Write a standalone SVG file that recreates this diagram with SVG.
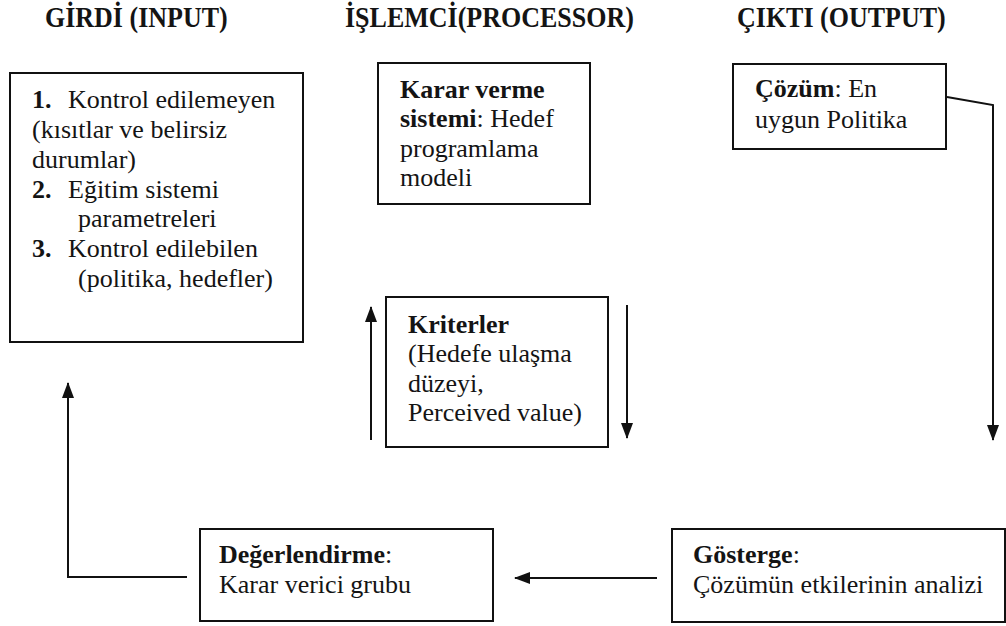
<svg xmlns="http://www.w3.org/2000/svg" width="1006" height="626" viewBox="0 0 1006 626">
<style>
text { font-family: 'Liberation Serif', 'DejaVu Serif', serif; font-size: 26px; fill: #141414; }
.title { font-weight: bold; font-size: 26px; }
.b { font-weight: bold; }
.box { fill: #ffffff; stroke: #111111; stroke-width: 2; }
.conn { fill: none; stroke: #111111; stroke-width: 2; }
</style>
<defs>
<marker id="arrow" markerWidth="16" markerHeight="12" refX="15" refY="6" orient="auto" markerUnits="userSpaceOnUse">
<path d="M0,0 L16,6 L0,12 Z" fill="#111111"/>
</marker>
</defs>
<rect width="1006" height="626" fill="#ffffff"/>

<g id="titles">
<text class="title" transform="translate(45,27) scale(1,1.12)">GİRDİ (INPUT)</text>
<text class="title" transform="translate(345,27) scale(1,1.12)">İŞLEMCİ(PROCESSOR)</text>
<text class="title" transform="translate(737,27) scale(1,1.12)">ÇIKTI (OUTPUT)</text>
</g>

<g id="input">
<rect class="box" x="10" y="73" width="293" height="269"/>
<text x="32" y="108"><tspan class="b">1.</tspan></text>
<text x="68" y="108">Kontrol edilemeyen</text>
<text x="32" y="138">(kısıtlar ve belirsiz</text>
<text x="32" y="168">durumlar)</text>
<text x="32" y="198"><tspan class="b">2.</tspan></text>
<text x="68" y="198">Eğitim sistemi</text>
<text x="78" y="227">parametreleri</text>
<text x="32" y="257"><tspan class="b">3.</tspan></text>
<text x="68" y="257">Kontrol edilebilen</text>
<text x="78" y="287">(politika, hedefler)</text>
</g>

<g id="processor">
<rect class="box" x="378" y="63" width="212" height="141"/>
<text x="400" y="98"><tspan class="b">Karar verme</tspan></text>
<text x="400" y="127"><tspan class="b">sistemi</tspan>: Hedef</text>
<text x="400" y="157">programlama</text>
<text x="400" y="186">modeli</text>
</g>

<g id="output">
<rect class="box" x="733" y="64" width="213" height="85"/>
<text x="755" y="97"><tspan class="b">Çözüm</tspan>: En</text>
<text x="755" y="128">uygun Politika</text>
</g>

<g id="criteria">
<rect class="box" x="386" y="297" width="222" height="150"/>
<text x="408" y="333"><tspan class="b">Kriterler</tspan></text>
<text x="408" y="362">(Hedefe ulaşma</text>
<text x="408" y="392">düzeyi,</text>
<text x="408" y="421">Perceived value)</text>
</g>

<g id="evaluation">
<rect class="box" x="200" y="529" width="293" height="92"/>
<text x="219" y="563"><tspan class="b">Değerlendirme</tspan>:</text>
<text x="219" y="593">Karar verici grubu</text>
</g>

<g id="indicator">
<rect class="box" x="672" y="529" width="333" height="93"/>
<text x="693" y="563"><tspan class="b">Gösterge</tspan>:</text>
<text x="693" y="593">Çözümün etkilerinin analizi</text>
</g>

<g id="connectors">
<polyline class="conn" points="947,97 993,105 993,440" marker-end="url(#arrow)"/>
<line class="conn" x1="371" y1="440" x2="371" y2="307" marker-end="url(#arrow)"/>
<line class="conn" x1="627" y1="305" x2="627" y2="438" marker-end="url(#arrow)"/>
<line class="conn" x1="657" y1="578" x2="515" y2="578" marker-end="url(#arrow)"/>
<polyline class="conn" points="187,577 68,577 68,383" marker-end="url(#arrow)"/>
</g>
</svg>
